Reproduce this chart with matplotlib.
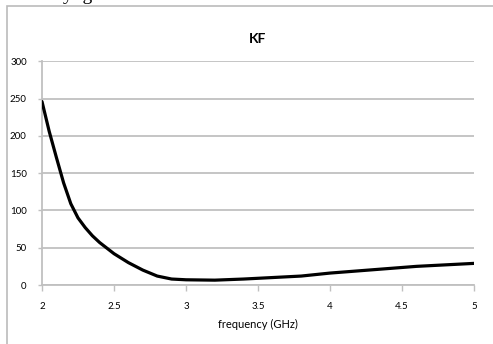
import matplotlib
matplotlib.use("Agg")
import matplotlib.pyplot as plt
from matplotlib.patches import Rectangle

# KF vs frequency
freq = [2.0, 2.05, 2.1, 2.15, 2.2, 2.25, 2.3, 2.35, 2.4, 2.5, 2.6, 2.7,
        2.8, 2.9, 3.0, 3.2, 3.4, 3.6, 3.8, 4.0, 4.2, 4.4, 4.6, 4.8, 5.0]
kf = [246, 206, 171, 137, 109, 90, 77, 66, 57, 42, 30, 20,
      12, 8, 7, 6.5, 8, 10, 12, 16, 19, 22, 25, 27, 29]

x_ticks = [2, 2.5, 3, 3.5, 4, 4.5, 5]
x_labels = ["2", "2.5", "3", "3.5", "4", "4.5", "5"]
y_ticks = [0, 50, 100, 150, 200, 250, 300]

plt.rcParams['font.family'] = ['Lato', 'DejaVu Sans']

fig = plt.figure(figsize=(4.93, 3.44), dpi=100)
ax = fig.add_axes([0.0852, 0.1715, 0.8763, 0.6503])

grid_c = '#c0c0c0'
ax.plot(freq, kf, color='black', lw=2.3, solid_joinstyle='round',
        solid_capstyle='round', zorder=3)

ax.set_xlim(2, 5)
ax.set_ylim(0, 300)
ax.set_xticks(x_ticks)
ax.set_xticklabels(x_labels)
ax.set_yticks(y_ticks)
ax.yaxis.grid(True, color=grid_c, lw=1.3)
ax.set_axisbelow(True)

for s in ['top', 'right']:
    ax.spines[s].set_visible(False)
for s in ['left', 'bottom']:
    ax.spines[s].set_color(grid_c)
    ax.spines[s].set_linewidth(1.3)

ax.tick_params(axis='x', length=4, width=1, color=grid_c, labelsize=7, pad=8)
ax.tick_params(axis='y', length=3, width=1, color=grid_c, labelsize=7, pad=8)

ax.set_title('KF', fontsize=10, fontweight='bold', pad=13)
ax.set_xlabel('frequency (GHz)', fontsize=8, labelpad=6)

# chart frame, cut by the image edges
fig.patches.append(Rectangle((6.5 / 493, -0.1), 1.2, 1 - 5.5 / 344 + 0.1,
                             transform=fig.transFigure, fill=False,
                             edgecolor='#bbbbbb', lw=1.2, clip_on=False))

# text from the page above, only descenders visible
fig.text(63 / 493, 1.0, 'y  g', family='Liberation Serif', fontsize=14,
         va='baseline', ha='left')

fig.savefig('out.png', dpi=100)
